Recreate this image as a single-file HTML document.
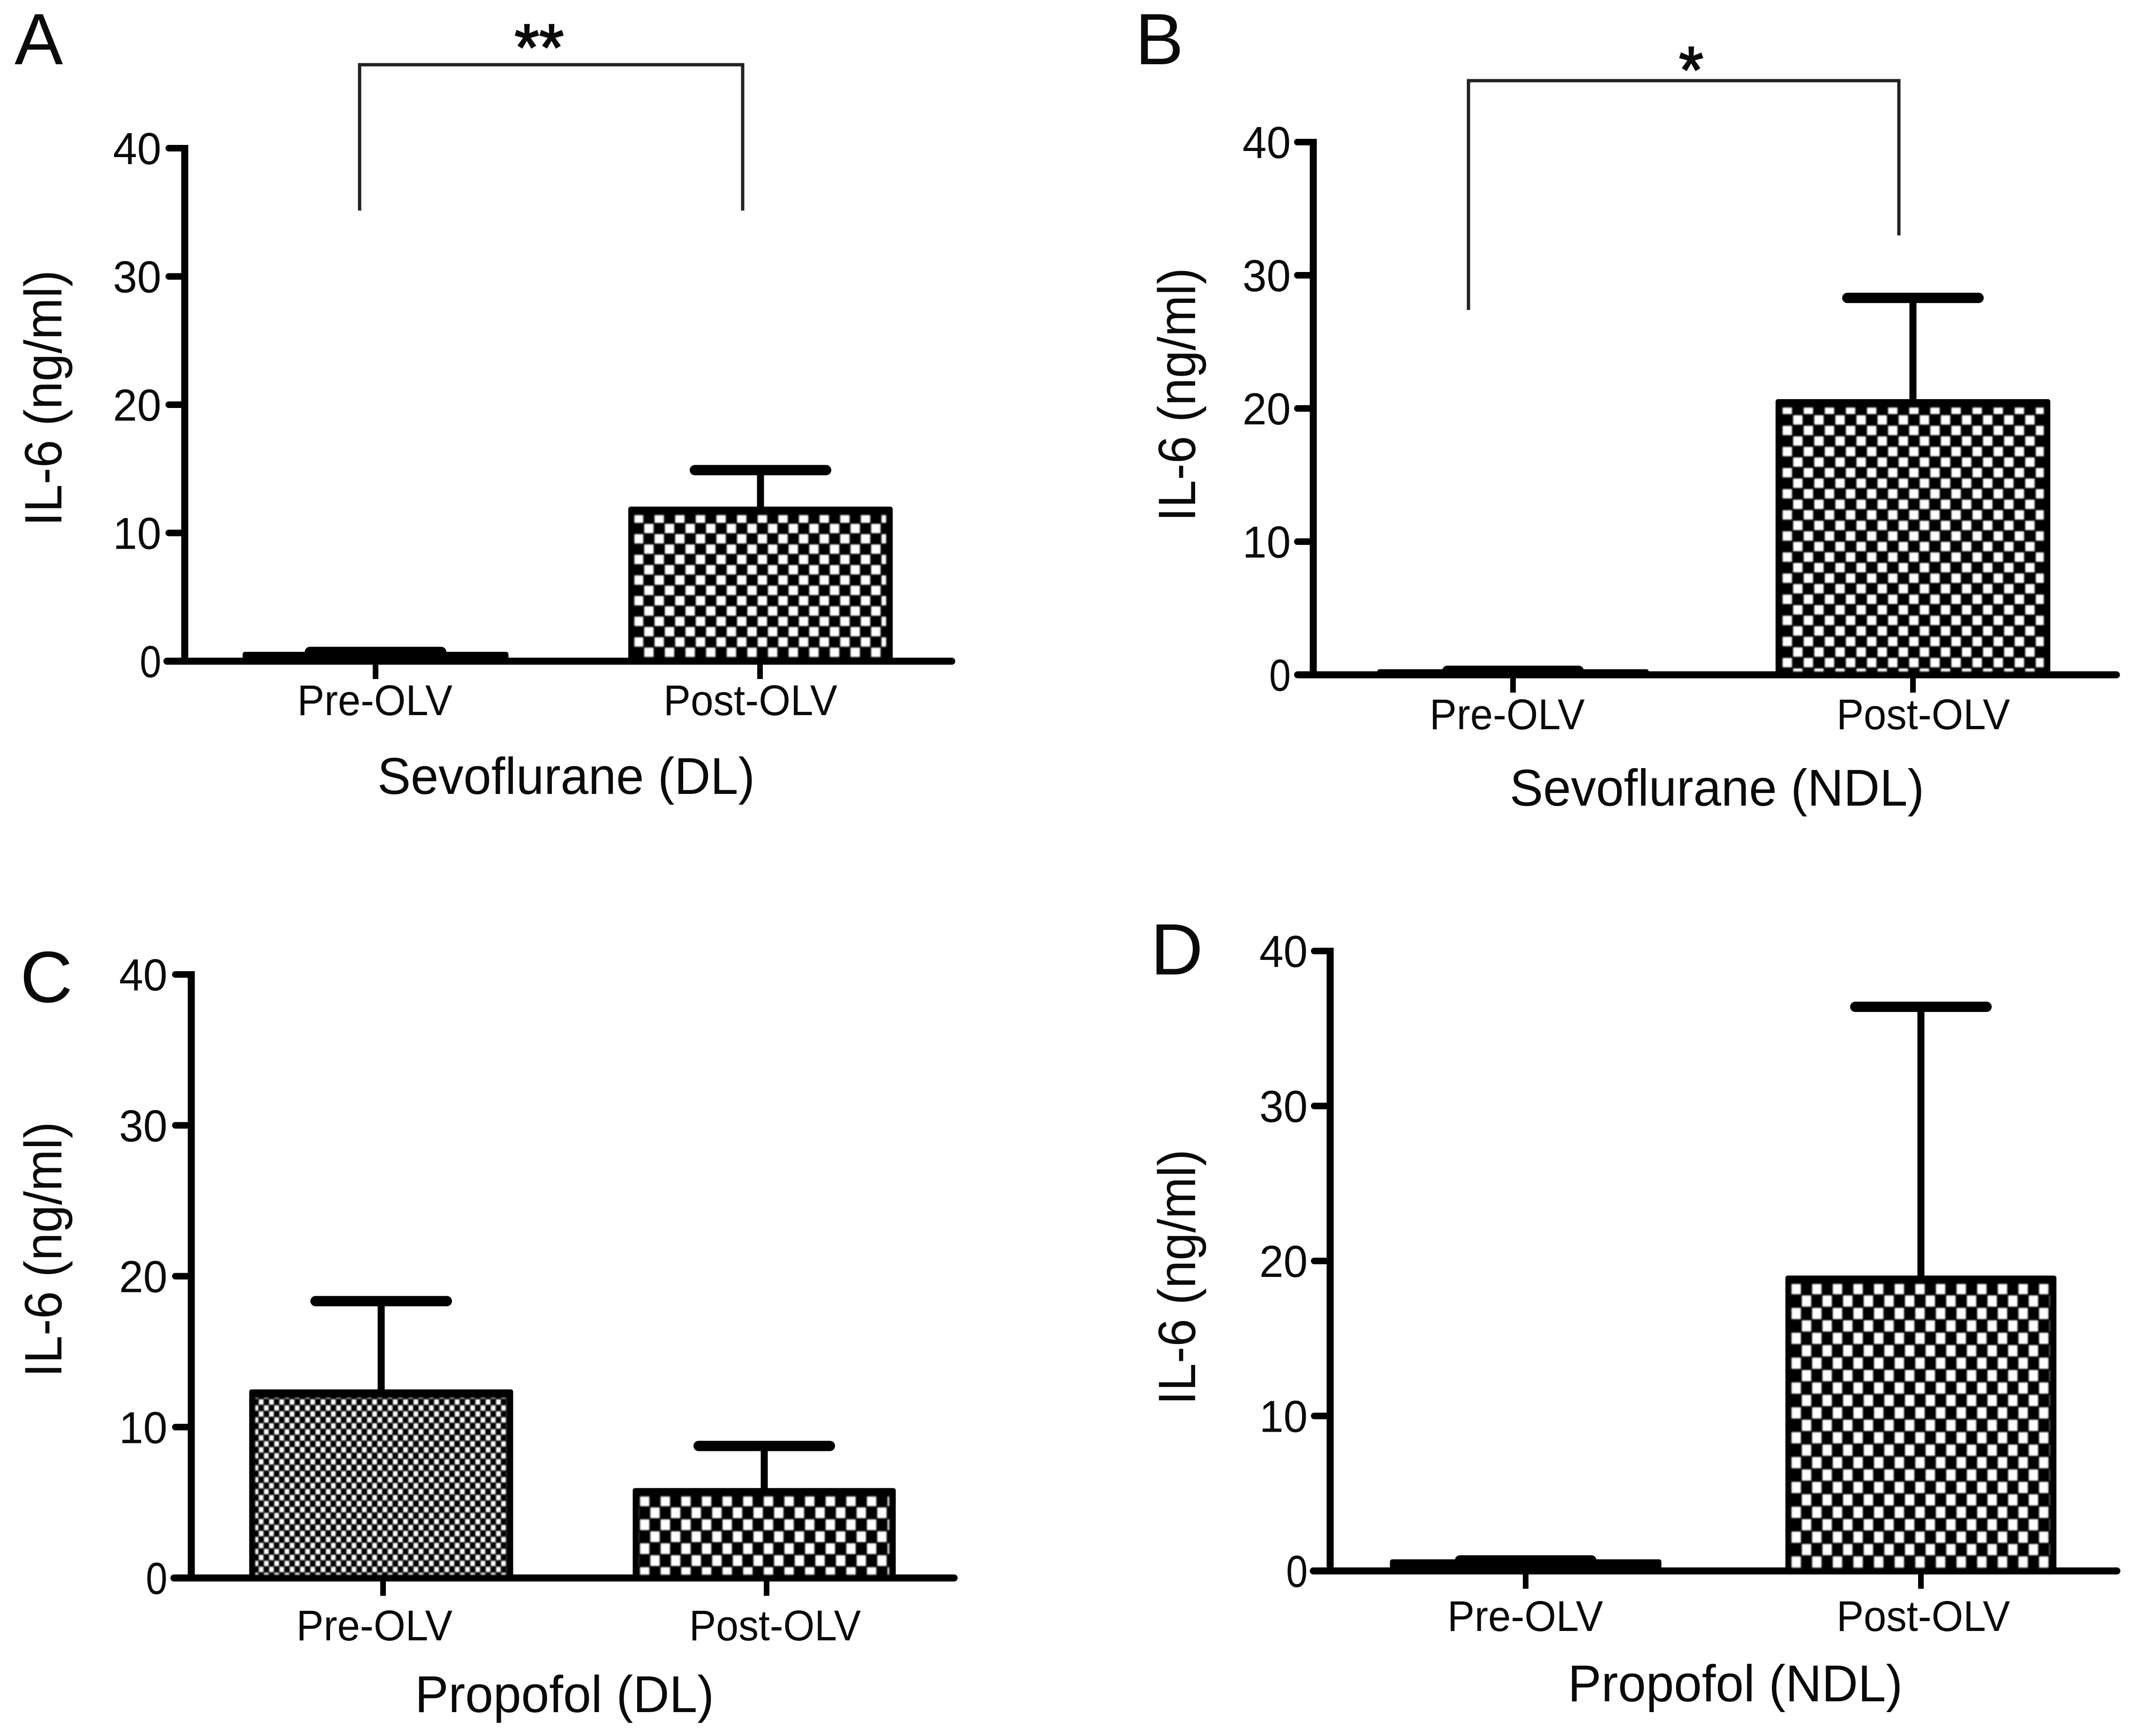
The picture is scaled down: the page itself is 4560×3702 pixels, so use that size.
<!DOCTYPE html>
<html>
<head>
<meta charset="utf-8">
<title>IL-6 before and after one-lung ventilation</title>
<style>
html,body{margin:0;padding:0;background:#fff;}
svg{display:block;}
text{font-family:"Liberation Sans",sans-serif;fill:#0a0a0a;}
</style>
</head>
<body>
<svg id="figure" xmlns="http://www.w3.org/2000/svg" width="4560" height="3702" viewBox="0 0 4560 3702">
<rect width="4560" height="3702" fill="#fff"/>
<defs>
<pattern id="fill-A-post" patternUnits="userSpaceOnUse" x="1352" y="1095" width="44" height="44"><rect width="44" height="44" fill="#000"/><rect width="20" height="20" fill="#fff"/><rect x="22" y="22" width="20" height="20" fill="#fff"/></pattern>
<pattern id="fill-B-post" patternUnits="userSpaceOnUse" x="3802" y="863" width="45" height="45"><rect width="45" height="45" fill="#000"/><rect width="20" height="20" fill="#fff"/><rect x="22.5" y="22.5" width="20" height="20" fill="#fff"/></pattern>
<pattern id="fill-C-pre" patternUnits="userSpaceOnUse" x="552" y="2984" width="22" height="25.5"><rect width="22" height="25.5" fill="#000"/><rect width="10" height="11.5" fill="#fff"/><rect x="11" y="12.75" width="10" height="11.5" fill="#fff"/></pattern>
<pattern id="fill-C-post" patternUnits="userSpaceOnUse" x="1365" y="3189" width="44" height="51"><rect width="44" height="51" fill="#000"/><rect width="20" height="23" fill="#fff"/><rect x="22" y="25.5" width="20" height="23" fill="#fff"/></pattern>
<pattern id="fill-D-post" patternUnits="userSpaceOnUse" x="3821" y="2736" width="44" height="53"><rect width="44" height="53" fill="#000"/><rect width="20" height="24" fill="#fff"/><rect x="22" y="26.5" width="20" height="24" fill="#fff"/></pattern>
</defs>
</svg>
<script>
const categories = ['Pre-OLV', 'Post-OLV'];
const yTicks = [0, 10, 20, 30, 40];
const tickLabels = ['0', '10', '20', '30', '40'];
const meanA = [0.73, 12.05];
const upperA = [0.72, 14.9];
const meanB = [0.42, 20.7];
const upperB = [0.3, 28.3];
const meanC = [12.5, 5.96];
const upperC = [18.35, 8.75];
const meanD = [0.75, 19.06];
const upperD = [0.68, 36.4];

const panels = [
  {id:'A', title:'Sevoflurane (DL)', mean:meanA, upper:upperA,
   axisX:394, y40:316, y0:1410, baseL:356, baseR:2030, tickRight:344,
   cx:[801,1622], barW:[567,564], tickX:[801,1621], labelL:[634,1415], labelW:[331,371], labelY:1525,
   titleL:805, titleW:805, titleY:1693, yTitleX:131, yTitleBottom:1122, yTitleLen:546,
   letterX:31, letterY:137, fills:[null,'fill-A-post'],
   bracket:{l:767,r:1584,top:138,lb:449,rb:449}, stars:{text:'**',cx:1150,y:149,len:105}},
  {id:'B', title:'Sevoflurane (NDL)', mean:meanB, upper:upperB,
   axisX:2801, y40:303, y0:1439, baseL:2768, baseR:4514, tickRight:2753,
   cx:[3227,4080], barW:[579,586], tickX:[3227,4080], labelL:[3049,3917], labelW:[331,370], labelY:1555,
   titleL:3220, titleW:884, titleY:1718, yTitleX:2549, yTitleBottom:1112, yTitleLen:541,
   letterX:2421, letterY:137, fills:[null,'fill-B-post'],
   bracket:{l:3132,r:4050,top:172,lb:661,rb:502}, stars:{text:'*',cx:3607,y:197,len:52}},
  {id:'C', title:'Propofol (DL)', mean:meanC, upper:upperC,
   axisX:408, y40:2078, y0:3365, baseL:371, baseR:2035, tickRight:357,
   cx:[813,1630], barW:[563,561], tickX:[817,1635], labelL:[632,1470], labelW:[333,366], labelY:3498,
   titleL:885, titleW:638, titleY:3651, yTitleX:131, yTitleBottom:2937, yTitleLen:545,
   letterX:43, letterY:2137, fills:['fill-C-pre','fill-C-post'],
   bracket:null, stars:null},
  {id:'D', title:'Propofol (NDL)', mean:meanD, upper:upperD,
   axisX:2837, y40:2028, y0:3350, baseL:2801, baseR:4515, tickRight:2789,
   cx:[3254,4097], barW:[579,578], tickX:[3254,4097], labelL:[3087,3917], labelW:[332,370], labelY:3478,
   titleL:3344, titleW:714, titleY:3628, yTitleX:2549, yTitleBottom:2996, yTitleLen:545,
   letterX:2454, letterY:2078, fills:[null,'fill-D-post'],
   bracket:null, stars:null}
];

const svg = document.getElementById('figure');
const NS = 'http://www.w3.org/2000/svg';

function make(tag, parent, attrs) {
  const el = document.createElementNS(NS, tag);
  for (const key in attrs) el.setAttribute(key, attrs[key]);
  parent.appendChild(el);
  return el;
}

panels.forEach(function (p) {
  const yScale = function (v) { return p.y0 + (p.y40 - p.y0) * v / 40; };
  const k = p.id.toLowerCase();

  const g = make('g', svg, {});
  
  

  const letter = make('text', g, {x:p.letterX, y:p.letterY, 'font-size':155});
  letter.textContent = p.id;
  
  

  const yAxis = make('line', g, {x1:p.axisX, x2:p.axisX, y1:yScale(40)-7, y2:p.y0+7, stroke:'#000', 'stroke-width':15});
  
  

  yTicks.forEach(function (t, i) {
    const y = yScale(t);
    const tick = make('line', g, {x1:p.axisX-34, x2:p.axisX, y1:y, y2:y, stroke:'#000', 'stroke-width':14, 'stroke-linecap':'round'});
    
    
    const lab = tickLabels[i];
    const w = lab.length > 1 ? 103 : 46;
    const tl = make('text', g, {x:p.tickRight-w, y:y+34, 'font-size':96, textLength:w, lengthAdjust:'spacingAndGlyphs', fill:'#1a1a1a'});
    tl.textContent = lab;
    
    
  });

  const baseline = make('line', g, {x1:p.baseL, x2:p.baseR, y1:p.y0, y2:p.y0, stroke:'#000', 'stroke-width':15, 'stroke-linecap':'round'});
  
  

  categories.forEach(function (cat, i) {
    const slug = cat.toLowerCase().replace('-olv', '');
    const top = yScale(p.mean[i]);
    const left = p.cx[i] - p.barW[i] / 2;
    const capY = yScale(p.upper[i]);

    const stem = make('line', g, {x1:p.cx[i], x2:p.cx[i], y1:capY, y2:top+4, stroke:'#000', 'stroke-width':15});
    
    

    const cap = make('line', g, {x1:p.cx[i]-140, x2:p.cx[i]+140, y1:capY, y2:capY, stroke:'#000', 'stroke-width':22, 'stroke-linecap':'round'});
    
    

    const bar = make('rect', g, {x:left, y:top, width:p.barW[i], height:p.y0-top+7, rx:5, fill:'#000'});
    
    

    if (p.fills[i]) {
      const inner = make('rect', g, {x:left+13, y:top+18, width:p.barW[i]-27, height:p.y0-top-25, fill:'url(#' + p.fills[i] + ')', style:'filter:blur(1.5px)'});
      
      
    }

    const xt = make('line', g, {x1:p.tickX[i], x2:p.tickX[i], y1:p.y0, y2:p.y0+38, stroke:'#000', 'stroke-width':12});
    
    

    const cl = make('text', g, {x:p.labelL[i], y:p.labelY, 'font-size':92, textLength:p.labelW[i], lengthAdjust:'spacingAndGlyphs'});
    cl.textContent = cat;
    
    
  });

  const xTitle = make('text', g, {x:p.titleL, y:p.titleY, 'font-size':110, textLength:p.titleW, lengthAdjust:'spacingAndGlyphs'});
  xTitle.textContent = p.title;
  
  

  const yTitle = make('text', g, {transform:'translate(' + p.yTitleX + ',' + p.yTitleBottom + ') rotate(-90)', x:0, y:0, 'font-size':112, textLength:p.yTitleLen, lengthAdjust:'spacingAndGlyphs'});
  yTitle.textContent = 'IL-6 (ng/ml)';
  
  

  if (p.bracket) {
    const b = p.bracket;
    const path = make('path', g, {d:'M' + b.l + ' ' + b.lb + 'V' + b.top + 'H' + b.r + 'V' + b.rb, fill:'none', stroke:'#222', 'stroke-width':7});
    
    
    const s = p.stars;
    const star = make('text', g, {x:s.cx-s.len/2, y:s.y, 'font-size':140, textLength:s.len, lengthAdjust:'spacingAndGlyphs', stroke:'#0a0a0a', 'stroke-width':3});
    star.textContent = s.text;
    
    
  }
});
</script>
</body>
</html>
